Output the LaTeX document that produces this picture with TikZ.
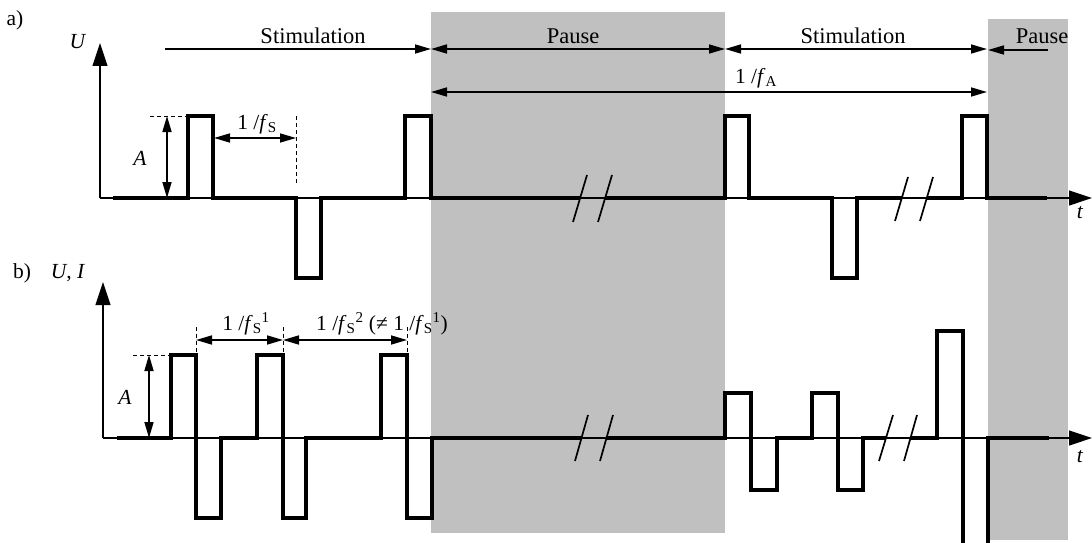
\documentclass[tikz,border=0pt]{standalone}
\usepackage{fontspec}
\setmainfont{Liberation Serif}
\usetikzlibrary{arrows.meta}
\definecolor{pausegray}{RGB}{192,192,192}
\begin{document}
\begin{tikzpicture}[x=1pt,y=-1pt,
  sig/.style={line width=3.6pt, line join=miter, line cap=butt},
  axisarrow/.style={line width=1.2pt, -{Triangle[length=23pt,width=15pt]}},
  dimboth/.style={line width=1.6pt, {Triangle[length=16pt,width=9pt]}-{Triangle[length=16pt,width=9pt]}},
  dimone/.style={line width=1.6pt, -{Triangle[length=16pt,width=9pt]}},
  helper/.style={line width=1pt, dash pattern=on 4pt off 3pt},
  brk/.style={line width=1.7pt},
  lbl/.style={font=\fontsize{21.5}{24}\selectfont, inner sep=0pt},
  wide/.style={font=\fontsize{22.5}{25}\selectfont, inner sep=0pt},
]
\path[use as bounding box] (0,0) rectangle (1092,543);

% pause regions
\fill[pausegray] (431,12) rectangle (725,533);
\fill[pausegray] (988,19) rectangle (1068,540);

% ---------- a) ----------
\coordinate (aO) at (100,198);
\coordinate (aY) at (100,43);
\coordinate (aX) at (1092,198);
\draw[axisarrow] (aO) -- (aY);
\draw[axisarrow] (aO) -- (aX);

\draw[sig] (113,198) -- (188,198) -- (188,116) -- (213,116) -- (213,198) -- (296,198) -- (296,278) -- (321,278) -- (321,198) -- (405,198) -- (405,116) -- (431,116) -- (431,198) -- (580,198);
\draw[sig] (605,198) -- (725,198) -- (725,116) -- (749,116) -- (749,198) -- (832,198) -- (832,278) -- (857,278) -- (857,198) -- (902,198);
\draw[sig] (927,198) -- (962,198) -- (962,116) -- (987,116) -- (987,198) -- (1047,198);

\draw[brk] (573,222) -- (587,175);
\draw[brk] (598,222) -- (612,175);
\draw[brk] (895,221) -- (908,177);
\draw[brk] (920,221) -- (933,177);

% dimension coordinates a)
\coordinate (s1a) at (165,49);
\coordinate (s1b) at (431,49);
\coordinate (p1b) at (725,49);
\coordinate (s2b) at (987,49);
\coordinate (p2a) at (1048,50);
\coordinate (p2b) at (988,50);
\coordinate (fa1) at (431,92);
\coordinate (fa2) at (987,92);
\coordinate (aA1) at (167,116);
\coordinate (aA2) at (167,198);
\coordinate (aD1) at (150,116);
\coordinate (aD2) at (188,116);
\coordinate (fs1) at (214,138);
\coordinate (fs2) at (296,138);
\coordinate (fsv1) at (296,116);
\coordinate (fsv2) at (296,183);

\draw[dimone] (s1a) -- (s1b);
\draw[dimboth] (s1b) -- (p1b);
\draw[dimboth] (p1b) -- (s2b);
\draw[dimone] (p2a) -- (p2b);
\draw[dimboth] (fa1) -- (fa2);
\draw[dimboth] (aA1) -- (aA2);
\draw[helper] (aD1) -- (aD2);
\draw[dimboth] (fs1) -- (fs2);
\draw[helper] (fsv1) -- (fsv2);

\node[lbl] (la) at (15,20) {a)};
\node[lbl] (lU) at (78,42) {\textit{U}};
\node[lbl] (lta) at (1080,213) {\textit{t}};
\node[wide] (stim1) at (313,36) {Stimulation};
\node[wide] (pause1) at (573,36) {Pause};
\node[wide] (stim2) at (853,36) {Stimulation};
\node[wide] (pause2) at (1042,36) {Pause};
\node[lbl] (lfA) at (756,78) {1 /\textit{f}\textsubscript{A}};
\node[lbl] (lfS) at (257,124) {1 /\textit{f}\textsubscript{S}};
\node[lbl] (lAa) at (140,158) {\textit{A}};

% ---------- b) ----------
\coordinate (bO) at (103,438);
\coordinate (bY) at (103,282);
\coordinate (bX) at (1092,438);
\draw[axisarrow] (bO) -- (bY);
\draw[axisarrow] (bO) -- (bX);

\draw[sig] (117,438) -- (171,438) -- (171,355) -- (196,355) -- (196,518) -- (221,518) -- (221,438) -- (257,438) -- (257,355) -- (283,355) -- (283,518) -- (306,518) -- (306,438) -- (381,438) -- (381,355) -- (407,355) -- (407,518) -- (432,518) -- (432,438) -- (581.5,438);
\draw[sig] (606.5,438) -- (725,438) -- (725,393) -- (751,393) -- (751,490) -- (777,490) -- (777,438) -- (812,438) -- (812,393) -- (838,393) -- (838,490) -- (863,490) -- (863,438) -- (886,438);
\draw[sig] (910.5,438) -- (937,438) -- (937,331) -- (963,331) -- (963,543);
\draw[sig] (988,543) -- (988,438) -- (1049,438);

\draw[brk] (575,461) -- (588,415);
\draw[brk] (600,461) -- (613,415);
\draw[brk] (879,461) -- (893,415);
\draw[brk] (904,461) -- (917,415);

\coordinate (bA1) at (149,355);
\coordinate (bA2) at (149,438);
\coordinate (bD1) at (133,355);
\coordinate (bD2) at (171,355);
\coordinate (g1) at (196,340);
\coordinate (g2) at (283,340);
\coordinate (g3) at (407,340);
\coordinate (v1t) at (196,327);
\coordinate (v1b) at (196,355);
\coordinate (v2t) at (283,327);
\coordinate (v2b) at (283,355);
\coordinate (v3t) at (407,327);
\coordinate (v3b) at (407,355);

\draw[dimboth] (bA1) -- (bA2);
\draw[helper] (bD1) -- (bD2);
\draw[dimboth] (g1) -- (g2);
\draw[dimboth] (g2) -- (g3);
\draw[helper] (v1t) -- (v1b);
\draw[helper] (v2t) -- (v2b);
\draw[helper] (v3t) -- (v3b);

\node[lbl] (lb) at (22,273) {b)};
\node[lbl] (lUI) at (68,273) {\textit{U}, \textit{I}};
\node[lbl] (ltb) at (1080,457) {\textit{t}};
\node[lbl] (lAb) at (125,397) {\textit{A}};
\node[lbl] (lf1) at (246,324) {1 /\textit{f}\textsubscript{S}\textsuperscript{1}};
\node[lbl] (lf2) at (382,324) {1 /\textit{f}\textsubscript{S}\textsuperscript{2} (≠ 1 /\textit{f}\textsubscript{S}\textsuperscript{1})};
\end{tikzpicture}
\end{document}
